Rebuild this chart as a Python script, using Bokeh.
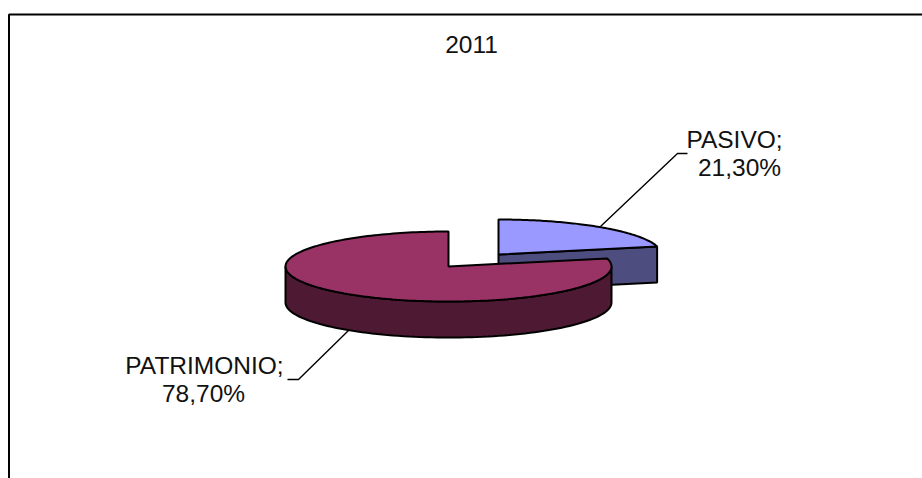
import math
from bokeh.plotting import figure
from bokeh.embed import file_html
from bokeh.resources import INLINE
from bokeh.models import Range1d

# data
labels = ["PASIVO", "PATRIMONIO"]
shares = [21.30, 78.70]
label_lines = [("PASIVO;", "21,30%"), ("PATRIMONIO;", "78,70%")]
title_text = "2011"

W, H = 922, 478
p = figure(width=W, height=H, output_backend="svg", toolbar_location=None,
           x_range=Range1d(0, W), y_range=Range1d(H, 0),
           min_border=0, outline_line_color=None)
p.axis.visible = False
p.grid.visible = False
p.background_fill_color = "white"
p.border_fill_color = "white"

RX, RY, DEPTH = 163, 35, 36
sweep = shares[0] / 100 * 2 * math.pi


def rim(cx, cy, a0, a1, n=90):
    xs, ys = [], []
    for i in range(n + 1):
        a = a0 + (a1 - a0) * i / n
        xs.append(cx + RX * math.sin(a))
        ys.append(cy - RY * math.cos(a))
    return xs, ys


LW = 2
# frame
p.line([8.5, 8.5, W], [H, 14, 14], line_color="black", line_width=2)

# leader lines (under the slices)
p.line([600, 677, 687], [226, 153, 153], line_color="black", line_width=1.4)
p.line([348, 298, 287], [330, 379, 379], line_color="black", line_width=1.4)

# PASIVO slice, pulled out
cx, cy = 498, 254
ex, ey = rim(cx, cy, sweep, sweep, 1)
p.patch([cx, ex[0], ex[0], cx], [cy, ey[0], ey[0] + DEPTH, cy + DEPTH],
        fill_color="#4D4D80", line_color="black", line_width=LW)
rx, ry = rim(cx, cy, 0, sweep)
p.patch([cx] + rx, [cy] + ry, fill_color="#9999FF", line_color="black", line_width=LW)

# PATRIMONIO slice
cx, cy = 448, 266
fx, fy = rim(cx, cy, math.pi / 2, 3 * math.pi / 2)
bx, by = fx[::-1], [v + DEPTH for v in fy[::-1]]
p.patch(fx + bx, fy + by, fill_color="#4D1933", line_color="black", line_width=LW)
rx, ry = rim(cx, cy, sweep, 2 * math.pi, 200)
p.patch([cx] + rx, [cy] + ry, fill_color="#993366", line_color="black", line_width=LW)

# texts
font = "Liberation Sans"
fs = "24.5px"


def put(x, y, t):
    p.text([x], [y], text=[t], text_font_size=fs, text_font={"value": font},
           text_align="center", text_baseline="middle", text_color="#111111")


put(471, 44, title_text)
put(734, 139, label_lines[0][0])
put(739, 167, label_lines[0][1])
put(204, 365, label_lines[1][0])
put(203, 393, label_lines[1][1])

open("out.html", "w").write(file_html(p, INLINE))
